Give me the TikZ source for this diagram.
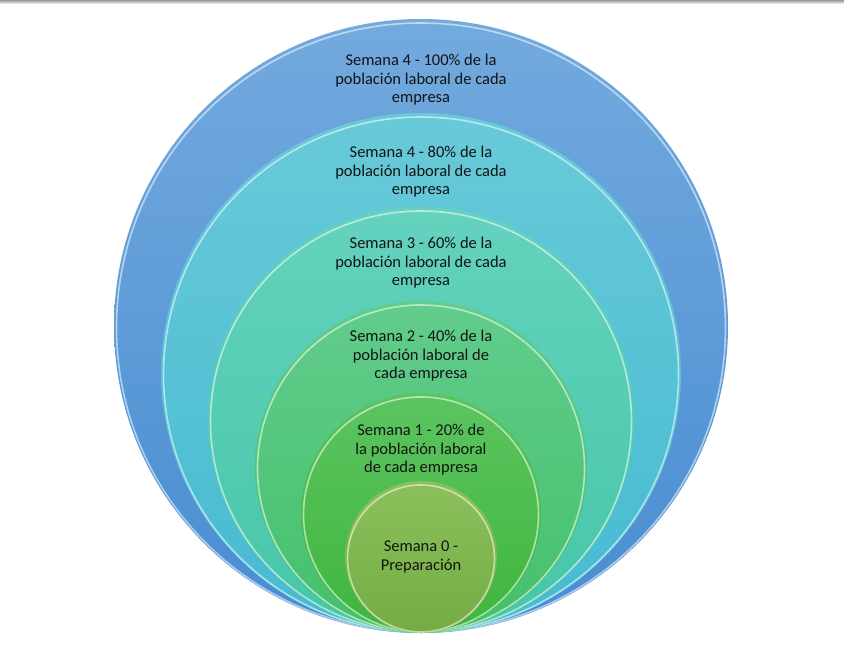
\documentclass[tikz,border=0pt]{standalone}
\usepackage{fontspec}
\setmainfont{Carlito}
\begin{document}
\begin{tikzpicture}[x=1pt,y=-1pt,
  ring/.style={circle,inner sep=0pt,outer sep=0pt,minimum size=#1},
  rim/.style={draw=white,draw opacity=0.55,line width=1.6pt},
  lbl/.style={align=center,inner sep=0pt,text=black!92,
    font=\fontsize{16.5}{18.5}\selectfont}]
\useasboundingbox (0,0) rectangle (844,648);
\fill[white] (0,0) rectangle (844,648);
% top gray border line
\shade[top color=black!40,bottom color=black!10] (0,0) rectangle (844,3);
% rings (outer to inner), all tangent at the bottom (y=633)
\node[ring=614pt,top color={rgb,255:red,115;green,170;blue,222},bottom color={rgb,255:red,72;green,140;blue,210}] (c5) at (421,326) {};
\draw[rim] (421,327.5) circle[radius=304.5];
\node[ring=520pt,top color={rgb,255:red,104;green,202;blue,216},bottom color={rgb,255:red,70;green,186;blue,210}] (c4) at (421,373) {};
\draw[rim] (421,374.5) circle[radius=257.5];
\node[ring=426pt,top color={rgb,255:red,100;green,210;blue,190},bottom color={rgb,255:red,70;green,198;blue,168}] (c3) at (421,420) {};
\draw[rim] (421,421.5) circle[radius=210.5];
\node[ring=332pt,top color={rgb,255:red,98;green,204;blue,140},bottom color={rgb,255:red,68;green,192;blue,108}] (c2) at (421,467) {};
\draw[rim] (421,468.5) circle[radius=163.5];
\node[ring=240pt,top color={rgb,255:red,92;green,196;blue,96},bottom color={rgb,255:red,62;green,182;blue,62}] (c1) at (421,513) {};
\draw[rim] (421,514.5) circle[radius=117.5];
\node[ring=152pt,top color={rgb,255:red,140;green,192;blue,92},bottom color={rgb,255:red,116;green,172;blue,68}] (c0) at (421,557) {};
\draw[rim] (421,558.5) circle[radius=73.5];
% labels
\node[lbl] (t5) at (421,80) {Semana 4 - 100\% de la\\población laboral de cada\\empresa};
\node[lbl] (t4) at (421,172) {Semana 4 - 80\% de la\\población laboral de cada\\empresa};
\node[lbl] (t3) at (421,263) {Semana 3 - 60\% de la\\población laboral de cada\\empresa};
\node[lbl] (t2) at (421,356) {Semana 2 - 40\% de la\\población laboral de\\cada empresa};
\node[lbl] (t1) at (421,450) {Semana 1 - 20\% de\\la población laboral\\de cada empresa};
\node[lbl] (t0) at (421,557) {Semana 0 -\\Preparación};
\end{tikzpicture}
\end{document}
